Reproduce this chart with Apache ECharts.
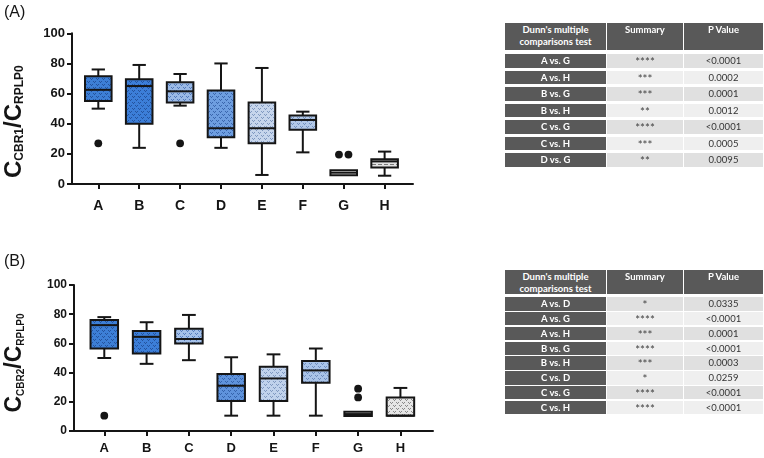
<!DOCTYPE html>
<html><head><meta charset="utf-8">
<script src="https://cdn.jsdelivr.net/npm/echarts@6/dist/echarts.min.js"></script>
<style>
html,body{margin:0;padding:0;background:#fff;}
#wrap{position:relative;width:764px;height:458px;overflow:hidden;}
#chart{position:absolute;left:0;top:0;width:764px;height:458px;}
.cell{position:absolute;display:flex;align-items:center;justify-content:center;box-sizing:border-box;white-space:nowrap;font-family:Lato,'Open Sans',sans-serif;font-size:9.5px;line-height:1;}
.hd{align-items:flex-start;text-align:center;color:#fff;font-weight:bold;background:#595959;}
</style></head>
<body><div id="wrap"><div id="chart"></div></div>
<script>
// ---------- data ----------
const categories = ['A', 'B', 'C', 'D', 'E', 'F', 'G', 'H'];
const yTickMin = 0, yTickMax = 100, yTickStep = 20;

// Panel A : C_CBR1 / C_RPLP0
const cbr1Min    = [50, 24, 52, 24, 6, 21, 5.8, 5.5];
const cbr1Q1     = [55, 40, 54, 31, 27, 36, 5.8, 11];
const cbr1Median = [62.5, 65, 61.5, 37, 37, 42.5, 7.5, 15];
const cbr1Q3     = [71.5, 69.5, 67.5, 62, 54, 45.5, 9.1, 16.5];
const cbr1Max    = [76, 79, 73, 80, 77, 48, 9.1, 21.5];
const cbr1OutlierCat = [0, 2, 6, 6];
const cbr1OutlierVal = [27, 27, 19.5, 19.5];

// Panel B : C_CBR2 / C_RPLP0
const cbr2Min    = [50, 46, 48.5, 10.5, 10.5, 10.5, 10.3, 10.5];
const cbr2Q1     = [56.5, 53, 60, 20.5, 20.5, 33, 10.3, 10.5];
const cbr2Median = [72.5, 64.5, 63, 31, 36, 41.5, 11.6, 10.5];
const cbr2Q3     = [76, 68.5, 70, 39, 44, 48, 13.2, 23];
const cbr2Max    = [78, 74.5, 79.5, 50.5, 52.5, 56.5, 13.2, 29.5];
const cbr2OutlierCat = [0, 6, 6];
const cbr2OutlierVal = [10.5, 29, 23];

// Tables
const tableAComparison = ['A vs. G', 'A vs. H', 'B vs. G', 'B vs. H', 'C vs. G', 'C vs. H', 'D vs. G'];
const tableASummary    = ['****', '***', '***', '**', '****', '***', '**'];
const tableAPValue     = ['<0.0001', '0.0002', '0.0001', '0.0012', '<0.0001', '0.0005', '0.0095'];
const tableBComparison = ['A vs. D', 'A vs. G', 'A vs. H', 'B vs. G', 'B vs. H', 'C vs. D', 'C vs. G', 'C vs. H'];
const tableBSummary    = ['*', '****', '***', '****', '***', '*', '****', '****'];
const tableBPValue     = ['0.0335', '<0.0001', '0.0001', '<0.0001', '0.0003', '0.0259', '<0.0001', '<0.0001'];
const tableHeader      = ["Dunn's multiple<br>comparisons test", 'Summary', 'P Value'];

// ---------- styles ----------
const fillA = ['#3d7fd6', '#3c7ed8', '#9ab9e6', '#6e9ee0', '#c6d5ec', '#b3c9e8', '#ffffff', '#e2e2e2'];
const markA = ['#24539e', '#24539e', '#5179bb', '#3a66ad', '#7f98c0', '#7290bf', '#8a8a8a', '#7a7a7a'];
const kindA = ['v', 'v', 'v', 'v', 'v', 'v', 'dash', 'dash'];
const fillB = ['#3d7fd6', '#3c7ed8', '#a5c1e9', '#5f93dc', '#c0d2ec', '#a9c3e8', '#ffffff', '#e6e6e6'];
const markB = ['#24539e', '#24539e', '#587fbf', '#3563ab', '#7f98c0', '#6d8cbd', '#8a8a8a', '#8a8a8a'];
const kindB = ['v', 'v', 'v', 'v', 'v', 'v', 'dash', 'v'];

function makePattern(base, mark, kind) {
  const c = document.createElement('canvas');
  c.width = 6; c.height = 6;
  const g = c.getContext('2d');
  g.fillStyle = base; g.fillRect(0, 0, 6, 6);
  g.fillStyle = mark;
  let pts;
  if (kind === 'dash') pts = [[0, 2], [1, 2], [2, 2], [3, 2]];
  else pts = [[0, 0], [2, 0], [1, 1], [3, 3], [5, 3], [4, 4]];
  pts.forEach(p => g.fillRect(p[0], p[1], 1, 1));
  return c;
}
const patA = fillA.map((f, i) => makePattern(f, markA[i], kindA[i]));
const patB = fillB.map((f, i) => makePattern(f, markB[i], kindB[i]));

const INK = '#151515';
const FONT = 'Liberation Sans';

function boxSeries(idx, mins, q1s, meds, q3s, maxs, pats) {
  return {
    type: 'custom', xAxisIndex: idx, yAxisIndex: idx, silent: true,
    data: categories.map((c, i) => [i, mins[i], q1s[i], meds[i], q3s[i], maxs[i]]),
    encode: { x: 0, y: [1, 2, 3, 4, 5] },
    renderItem: function (params, api) {
      const i = api.value(0);
      const pt = k => api.coord([i, api.value(k)]);
      const pMin = pt(1), pQ1 = pt(2), pMed = pt(3), pQ3 = pt(4), pMax = pt(5);
      const cx = pMin[0];
      const bw = api.size([1, 0])[0] * 0.65;
      const cw = bw * 0.5;
      const ls = { stroke: INK, lineWidth: 2 };
      const kids = [];
      if (pQ3[1] - pMax[1] > 0.5) {
        kids.push({ type: 'line', shape: { x1: cx, y1: pQ3[1], x2: cx, y2: pMax[1] }, style: ls });
        kids.push({ type: 'line', shape: { x1: cx - cw / 2, y1: pMax[1], x2: cx + cw / 2, y2: pMax[1] }, style: ls });
      }
      if (pMin[1] - pQ1[1] > 0.5) {
        kids.push({ type: 'line', shape: { x1: cx, y1: pQ1[1], x2: cx, y2: pMin[1] }, style: ls });
        kids.push({ type: 'line', shape: { x1: cx - cw / 2, y1: pMin[1], x2: cx + cw / 2, y2: pMin[1] }, style: ls });
      }
      kids.push({ type: 'rect', shape: { x: cx - bw / 2, y: pQ3[1], width: bw, height: pQ1[1] - pQ3[1] },
        style: { fill: { image: pats[i], repeat: 'repeat' }, stroke: INK, lineWidth: 2 } });
      kids.push({ type: 'line', shape: { x1: cx - bw / 2, y1: pMed[1], x2: cx + bw / 2, y2: pMed[1] }, style: ls });
      return { type: 'group', children: kids };
    }
  };
}

function outlierSeries(idx, cats, vals) {
  return {
    type: 'custom', xAxisIndex: idx, yAxisIndex: idx, silent: true,
    data: cats.map((c, k) => [c, vals[k]]),
    encode: { x: 0, y: 1 },
    renderItem: function (params, api) {
      const k = params.dataIndex;
      const p = api.coord([api.value(0), api.value(1)]);
      const sib = [];
      cats.forEach((c, j) => { if (c === cats[k] && vals[j] === vals[k]) sib.push(j); });
      const pos = sib.indexOf(k);
      const dx = (pos - (sib.length - 1) / 2) * 9.5;
      return { type: 'circle', shape: { cx: p[0] + dx, cy: p[1], r: 3.9 }, style: { fill: INK } };
    }
  };
}

function xAxisCfg(gi, min, max, fs, margin) {
  const vals = categories.map((c, i) => i);
  return {
    type: 'value', gridIndex: gi, min: min, max: max,
    splitLine: { show: false },
    axisLine: { show: true, onZero: false, lineStyle: { color: INK, width: 2 } },
    axisTick: { show: true, customValues: vals, length: 5, lineStyle: { color: INK, width: 2 } },
    axisLabel: { customValues: vals, formatter: v => categories[Math.round(v)], fontFamily: FONT,
      fontWeight: 'bold', fontSize: fs, color: INK, margin: margin }
  };
}

function yAxisCfg(gi, sub, fs, bigFs, subFs, gap, pad) {
  return {
    type: 'value', gridIndex: gi, min: yTickMin, max: yTickMax, interval: yTickStep,
    splitLine: { show: false },
    axisLine: { show: true, onZero: false, lineStyle: { color: INK, width: 2 } },
    axisTick: { show: true, length: 5, lineStyle: { color: INK, width: 2 } },
    axisLabel: { fontFamily: FONT, fontWeight: 'bold', fontSize: fs, color: INK, margin: 7 },
    name: '{c|C}{s|' + sub + '}{c|/C}{s|RPLP0}',
    nameLocation: 'middle', nameRotate: 90, nameGap: gap, nameMoveOverlap: false,
    nameTextStyle: {
      padding: [0, pad, 0, 0],
      rich: {
        c: { fontSize: bigFs, fontWeight: 'bold', fontFamily: FONT, color: INK, verticalAlign: 'bottom', lineHeight: bigFs + 2 },
        s: { fontSize: subFs, fontWeight: 'bold', fontFamily: FONT, color: INK, verticalAlign: 'bottom', lineHeight: subFs - 1 }
      }
    }
  };
}

const chart = echarts.init(document.getElementById('chart'), null, { renderer: 'canvas' });
chart.setOption({
  animation: false,
  backgroundColor: '#fff',
  grid: [
    { left: 72, top: 33.3, width: 341, height: 150.7, outerBoundsMode: 'none' },
    { left: 74, top: 285, width: 359, height: 146, outerBoundsMode: 'none' }
  ],
  xAxis: [xAxisCfg(0, -0.643, 7.694, 14, 15), xAxisCfg(1, -0.716, 7.77, 13, 11)],
  yAxis: [yAxisCfg(0, 'CBR1', 13, 24, 12, 46, 26), yAxisCfg(1, 'CBR2', 12, 23, 10, 48, 10)],
  graphic: [
    { type: 'text', left: 4, top: 5, style: { text: '(A)', font: '16px Liberation Sans', fill: INK } },
    { type: 'text', left: 4, top: 254, style: { text: '(B)', font: '16px Liberation Sans', fill: INK } }
  ],
  series: [
    boxSeries(0, cbr1Min, cbr1Q1, cbr1Median, cbr1Q3, cbr1Max, patA),
    outlierSeries(0, cbr1OutlierCat, cbr1OutlierVal),
    boxSeries(1, cbr2Min, cbr2Q1, cbr2Median, cbr2Q3, cbr2Max, patB),
    outlierSeries(1, cbr2OutlierCat, cbr2OutlierVal)
  ]
});

// ---------- tables ----------
const wrap = document.getElementById('wrap');
const colX = [505, 607, 684];
const colW = [101, 76, 79];
function cell(x, y, w, h, html, cls, css) {
  const d = document.createElement('div');
  d.className = 'cell ' + (cls || '');
  d.style.left = x + 'px'; d.style.top = y + 'px';
  d.style.width = w + 'px'; d.style.height = h + 'px';
  Object.assign(d.style, css || {});
  d.innerHTML = html;
  wrap.appendChild(d);
}
function esc(s) { return s.replace(/&/g, '&amp;').replace(/</g, '&lt;'); }
function buildTable(top, headH, headPad, lineH, rowTop, pitch, rowH, comps, sums, ps) {
  tableHeader.forEach((h, c) => cell(colX[c], top, colW[c], headH, h, 'hd',
    { paddingTop: headPad + 'px', lineHeight: lineH + 'px' }));
  comps.forEach((cmp, r) => {
    const y = rowTop + r * pitch;
    const bg = r % 2 === 0 ? '#e0e0e0' : '#efefef';
    cell(colX[0], y, colW[0], rowH, esc(cmp), '', { background: '#595959', color: '#fff', fontWeight: 'bold' });
    cell(colX[1], y, colW[1], rowH, esc(sums[r]), '', { background: bg, color: '#444', fontSize: '11.5px', paddingTop: '2px' });
    cell(colX[2], y, colW[2], rowH, esc(ps[r]), '', { background: bg, color: '#333' });
  });
}
buildTable(23, 27, 1, 12, 54, 16.55, 13.5, tableAComparison, tableASummary, tableAPValue);
buildTable(270, 24.3, 1, 12, 297.3, 14.77, 13.4, tableBComparison, tableBSummary, tableBPValue);
</script>
</body></html>
